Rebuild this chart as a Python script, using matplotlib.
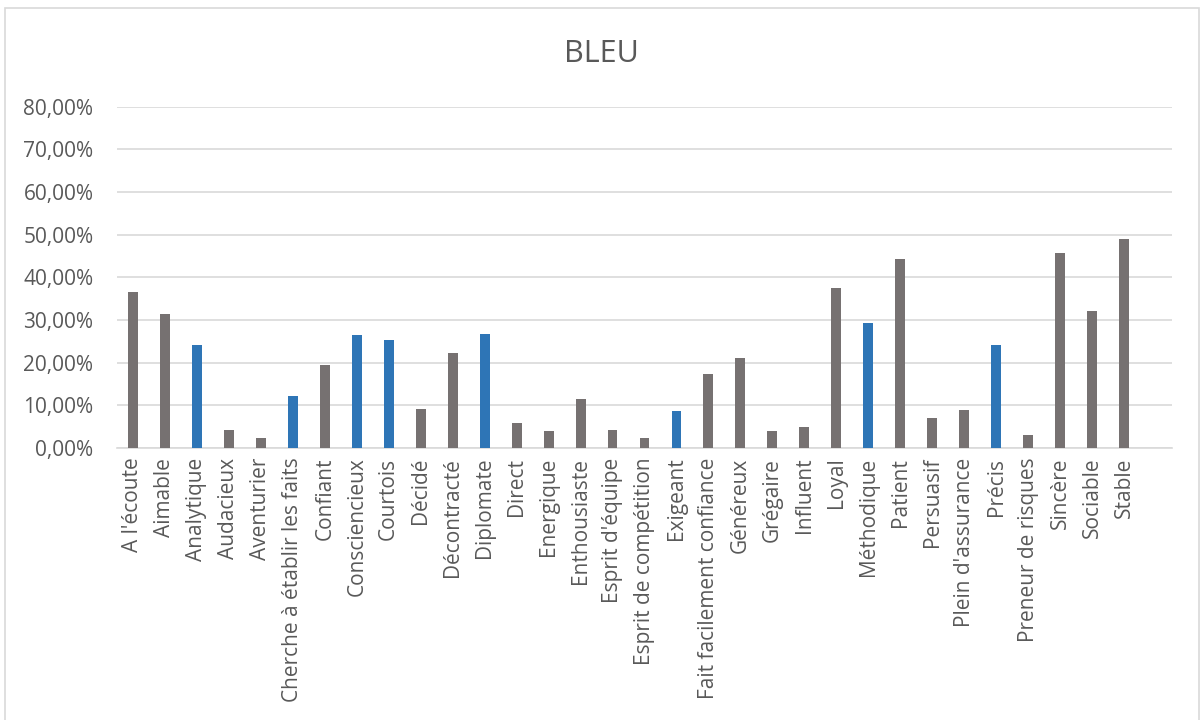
import matplotlib
matplotlib.use("Agg")
import matplotlib.pyplot as plt
from matplotlib.patches import Rectangle
from matplotlib.ticker import FuncFormatter, MultipleLocator

plt.rcParams['font.family'] = ['Open Sans', 'DejaVu Sans']

categories = [
    "A l'écoute", "Aimable", "Analytique", "Audacieux", "Aventurier",
    "Cherche à établir les faits", "Confiant", "Consciencieux", "Courtois",
    "Décidé", "Décontracté", "Diplomate", "Direct", "Energique",
    "Enthousiaste", "Esprit d'équipe", "Esprit de compétition", "Exigeant",
    "Fait facilement confiance", "Généreux", "Grégaire", "Influent", "Loyal",
    "Méthodique", "Patient", "Persuasif", "Plein d'assurance", "Précis",
    "Preneur de risques", "Sincère", "Sociable", "Stable",
]

values = [
    0.365, 0.315, 0.241, 0.043, 0.0235,
    0.121, 0.195, 0.264, 0.253,
    0.091, 0.222, 0.267, 0.059, 0.041,
    0.115, 0.043, 0.0235, 0.086,
    0.173, 0.210, 0.041, 0.0485, 0.374,
    0.292, 0.443, 0.070, 0.088, 0.241,
    0.030, 0.458, 0.321, 0.491,
]

highlighted = [
    "Analytique", "Cherche à établir les faits", "Consciencieux", "Courtois",
    "Diplomate", "Exigeant", "Méthodique", "Précis",
]

GREY = "#767171"
BLUE = "#2E75B6"
TEXT = "#595959"
GRID = "#D9D9D9"

fig = plt.figure(figsize=(12.01, 7.20), dpi=100)
fig.patch.set_facecolor("white")

# chart frame
fig.patches.append(Rectangle((5 / 1201, -0.05), 1194 / 1201, 1 - 8 / 720 + 0.05,
                             transform=fig.transFigure, fill=False,
                             edgecolor=GRID, linewidth=1.2))

ax = fig.add_axes([117 / 1201, 1 - 448 / 720, 1055 / 1201, (448 - 106.7) / 720])

n = len(categories)
x = list(range(n))
colors = [BLUE if c in highlighted else GREY for c in categories]
ax.bar(x, values, width=0.31, color=colors, zorder=3)

# one empty slot is kept after the last category
ax.set_xlim(-0.5, n + 0.5)
ax.set_ylim(0, 0.80)
ax.yaxis.set_major_locator(MultipleLocator(0.10))
ax.yaxis.set_major_formatter(FuncFormatter(lambda v, p: f"{v * 100:.2f}%".replace(".", ",")))
ax.grid(axis="y", color=GRID, linewidth=1.2, zorder=0)
ax.set_axisbelow(True)

for side in ("top", "right", "left"):
    ax.spines[side].set_visible(False)
ax.spines["bottom"].set_color(GRID)
ax.spines["bottom"].set_linewidth(1.2)

ax.set_xticks(x)
ax.set_xticklabels(categories, rotation=90, fontsize=15, color=TEXT)
ax.tick_params(axis="x", length=0, pad=7)
ax.tick_params(axis="y", length=0, pad=17, labelsize=15, labelcolor=TEXT)

fig.text(601 / 1201, 1 - 54 / 720, "BLEU", ha="center", va="center",
         fontsize=22, color=TEXT)

fig.savefig("out.png", dpi=100)
